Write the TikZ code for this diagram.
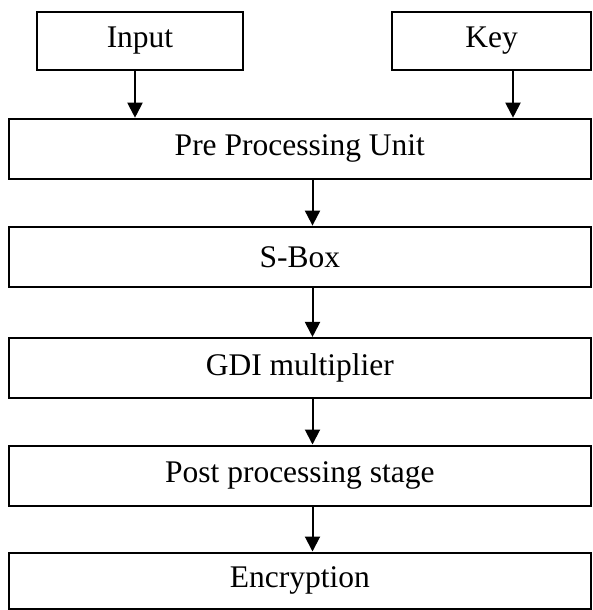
\documentclass[tikz,border=0pt]{standalone}
\usepackage{fontspec}
\setmainfont{Liberation Serif}
\usetikzlibrary{arrows.meta}
\begin{document}
\begin{tikzpicture}[x=1pt,y=-1pt,
  box/.style={draw=black,line width=2pt,rectangle,inner sep=0pt,
    font=\fontsize{31.5}{36}\selectfont},
  topbox/.style={box,minimum height=58.3pt},
  bigbox/.style={box,minimum width=582.3pt,minimum height=60.3pt},
  arr/.style={line width=2pt,-{Triangle[width=15pt,length=15pt]}}]
\useasboundingbox (0,0) rectangle (593,610);
\node[topbox,minimum width=206.6pt] (inp) at (140,40.85) {Input};
\node[topbox,minimum width=198.7pt] (key) at (491.65,40.85) {Key};
\node[bigbox] (pre) at (299.85,148.85) {Pre Processing Unit};
\node[bigbox] (sbox) at (299.85,256.75) {S-Box};
\node[bigbox] (gdi) at (299.85,368.1) {GDI multiplier};
\node[bigbox] (post) at (299.85,475.65) {Post processing stage};
\node[bigbox,minimum height=56pt] (enc) at (299.85,580.5) {Encryption};
\draw[arr] ([xshift=-5pt]inp.south) -- ([xshift=-5pt]inp.south |- pre.north);
\draw[arr] ([xshift=21.35pt]key.south) -- ([xshift=21.35pt]key.south |- pre.north);
\draw[arr] ([xshift=12.65pt]pre.south) -- ([xshift=12.65pt]sbox.north);
\draw[arr] ([xshift=12.65pt]sbox.south) -- ([xshift=12.65pt]gdi.north);
\draw[arr] ([xshift=12.65pt]gdi.south) -- ([xshift=12.65pt]post.north);
\draw[arr] ([xshift=12.65pt]post.south) -- ([xshift=12.65pt]enc.north);
\end{tikzpicture}
\end{document}
